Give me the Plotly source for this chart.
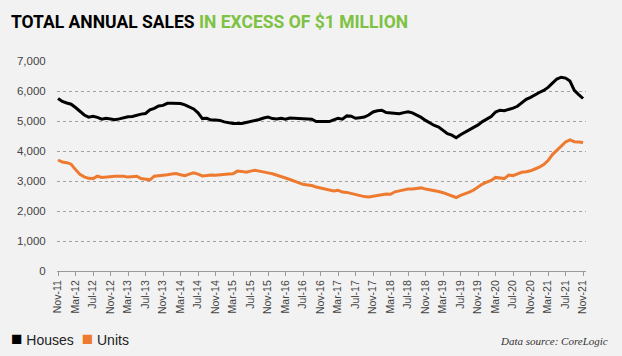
import plotly.graph_objects as go

houses = [5750, 5650, 5600, 5560, 5450, 5330, 5200, 5130, 5160, 5120,
          5060, 5090, 5060, 5040, 5070, 5110, 5140, 5150, 5200, 5230,
          5250, 5370, 5420, 5500, 5520, 5590, 5590, 5590, 5580, 5540,
          5480, 5400, 5270, 5080, 5090, 5030, 5030, 5020, 4970, 4940,
          4920, 4920, 4920, 4950, 4980, 5000, 5050, 5100, 5130, 5080,
          5070, 5090, 5060, 5100, 5090, 5090, 5070, 5070, 5060, 4980,
          4980, 4980, 4980, 5040, 5090, 5060, 5170, 5160, 5090, 5110,
          5130, 5200, 5300, 5340, 5360, 5280, 5270, 5270, 5240, 5280,
          5310, 5270, 5200, 5120, 5020, 4930, 4850, 4800, 4680, 4580,
          4530, 4440, 4540, 4620, 4700, 4790, 4870, 4980, 5070, 5150,
          5300, 5360, 5340, 5380, 5430, 5490, 5610, 5720, 5790, 5880,
          5950, 6020, 6120, 6260, 6400, 6460, 6430, 6330, 6020, 5880,
          5750]

units = [3700, 3630, 3610, 3560, 3380, 3220, 3140, 3090, 3080, 3160,
         3120, 3140, 3160, 3160, 3160, 3160, 3130, 3150, 3160, 3080,
         3050, 3040, 3160, 3170, 3190, 3210, 3230, 3250, 3210, 3180,
         3230, 3270, 3230, 3170, 3180, 3200, 3190, 3210, 3230, 3230,
         3240, 3330, 3320, 3290, 3330, 3360, 3330, 3310, 3270, 3240,
         3200, 3160, 3100, 3050, 3000, 2940, 2890, 2870, 2850, 2800,
         2770, 2730, 2700, 2670, 2690, 2630, 2620, 2580, 2540, 2500,
         2480, 2470, 2500, 2530, 2540, 2570, 2560, 2640, 2670, 2700,
         2730, 2730, 2740, 2770, 2730, 2710, 2690, 2650, 2610, 2550,
         2500, 2450, 2520, 2570, 2630, 2700, 2800, 2900, 2960, 3020,
         3120, 3090, 3080, 3200, 3180, 3240, 3290, 3310, 3340, 3400,
         3460, 3550, 3680, 3880, 4030, 4180, 4300, 4370, 4310, 4300,
         4280]

tick_labels = ["Nov-11", "Mar-12", "Jul-12", "Nov-12", "Mar-13", "Jul-13",
               "Nov-13", "Mar-14", "Jul-14", "Nov-14", "Mar-15", "Jul-15",
               "Nov-15", "Mar-16", "Jul-16", "Nov-16", "Mar-17", "Jul-17",
               "Nov-17", "Mar-18", "Jul-18", "Nov-18", "Mar-19", "Jul-19",
               "Nov-19", "Mar-20", "Jul-20", "Nov-20", "Mar-21", "Jul-21",
               "Nov-21"]
y_ticks = [0, 1000, 2000, 3000, 4000, 5000, 6000, 7000]

months = list(range(len(houses)))
tick_pos = [i * 4 for i in range(len(tick_labels))]

BLACK = "#000000"
ORANGE = "#ee7a30"
GREEN = "#7dc242"
BG = "#f2f2f2"

L, R, T, B = 57, 36, 61, 85
W, H = 622, 356

fig = go.Figure()
fig.add_trace(go.Scatter(x=months, y=houses, mode="lines", name="Houses",
                         line=dict(color=BLACK, width=3), showlegend=False))
fig.add_trace(go.Scatter(x=months, y=units, mode="lines", name="Units",
                         line=dict(color=ORANGE, width=3), showlegend=False))

pw = W - L - R
ph = H - T - B


def px(x):
    return (x - L) / pw


def py(y):
    return 1 - (y - T) / ph


fig.update_layout(
    width=W, height=H,
    paper_bgcolor=BG, plot_bgcolor=BG,
    margin=dict(l=L, r=R, t=T, b=B, autoexpand=False),
    font=dict(family="Liberation Sans, Arial, sans-serif", color="#444444"),
    xaxis=dict(range=[-0.23, 120.67], tickmode="array", tickvals=tick_pos,
               ticktext=tick_labels, tickangle=-90, tickfont=dict(size=10.5, color="#444444"),
               showgrid=False, zeroline=False, showline=True, linecolor="#999999",
               linewidth=1, ticks="outside", ticklen=4, tickcolor="#999999",
               automargin=False),
    yaxis=dict(range=[0, 7000], tickmode="array", tickvals=y_ticks,
               tickformat=",d", tickfont=dict(size=11.5, color="#444444"),
               showgrid=True, gridcolor="#a0a0a0", griddash="dot", gridwidth=1,
               zeroline=False, showline=False, ticks="outside", ticklen=8,
               tickcolor="rgba(0,0,0,0)", automargin=False),
    annotations=[
        dict(x=px(9), y=py(22), xref="paper", yref="paper", xanchor="left", yanchor="middle",
             text="<b>TOTAL ANNUAL SALES</b> <b><span style='color:%s'>IN EXCESS OF $1 MILLION</span></b>" % GREEN,
             showarrow=False, font=dict(family="Roboto", size=17.5, color=BLACK)),
        dict(x=px(9), y=py(338), xref="paper", yref="paper", xanchor="left", yanchor="middle",
             text="<span style='color:%s;font-size:19px'>■</span> Houses  <span style='color:%s;font-size:19px'>■</span> Units" % (BLACK, ORANGE),
             showarrow=False, font=dict(family="Liberation Sans, Arial", size=14, color="#222222")),
        dict(x=px(610), y=py(341), xref="paper", yref="paper", xanchor="right", yanchor="middle",
             text="<i>Data source: CoreLogic</i>",
             showarrow=False, font=dict(family="Liberation Serif, serif", size=11, color="#333333")),
    ],
)

fig.write_html("out.html", config={"displayModeBar": False},
               post_script="document.body.style.margin='0';document.body.style.padding='0';")
